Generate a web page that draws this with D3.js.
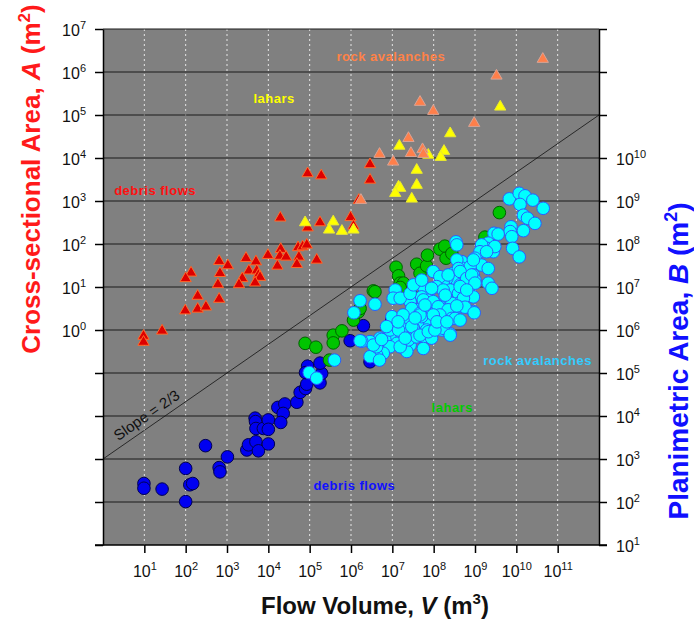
<!DOCTYPE html>
<html>
<head>
<meta charset="utf-8">
<script src="https://cdn.jsdelivr.net/npm/d3@7"></script>
<style>
  body { margin: 0; background: #fff; }
  svg { display: block; font-family: Arial, 'Liberation Sans', Helvetica, sans-serif; }
</style>
</head>
<body>
<div id="chart"></div>
<script>
// all values are log10 exponents
// triangles: [log V, log A]   circles: [log V, log B]
const debrisA = [
  [4.95, 3.64], [5.28, 3.59], [4.29, 2.61], [5.25, 2.5], [4.95, 2.38], [4.3, 1.88],
  [4.28, 1.72], [4.72, 1.92], [4.83, 1.94], [4.93, 1.98], [4.74, 1.7], [4.69, 1.53],
  [5.17, 1.63], [3.99, 1.74], [4.22, 1.49], [4.43, 1.7], [3.46, 1.67], [3.7, 1.59],
  [3.53, 1.38], [3.72, 1.38], [3.76, 1.28], [3.8, 1.23], [3.37, 1.2], [3.29, 1.06],
  [3.68, 1.1], [2.81, 1.6], [3.02, 1.5], [2.83, 1.32], [2.78, 1.06], [2.81, 0.72],
  [2.13, 1.33], [2.0, 1.2], [2.29, 0.79], [2.29, 0.49], [2.49, 0.54], [1.99, 0.45],
  [1.43, -0.02], [0.98, -0.14], [0.98, -0.28], [6.46, 3.85], [6.46, 3.49], [6.19, 3.02],
  [5.99, 2.62], [6.06, 2.42]
]
const laharA = [
  [4.89, 2.5], [5.57, 2.52], [5.47, 2.33], [5.78, 2.3], [6.06, 2.33], [7.17, 4.28],
  [7.59, 3.72], [7.15, 3.33], [7.19, 3.3], [7.07, 3.18], [7.59, 3.37], [7.47, 3.05],
  [8.4, 4.57], [8.25, 4.16], [8.17, 4.02], [7.87, 4.07], [9.61, 5.19]
]
const rockA = [
  [10.64, 6.3], [9.52, 5.91], [7.67, 5.3], [7.99, 5.09], [8.98, 4.81], [7.39, 4.46],
  [6.69, 4.09], [7.02, 3.91], [7.45, 4.11], [7.73, 4.2], [7.75, 4.09], [6.24, 3.02]
]
const debrisB = [
  [0.99, 2.43], [0.99, 2.32], [1.43, 2.3], [2.0, 2.78], [2.0, 2.01], [2.1, 2.4],
  [2.17, 2.43], [2.48, 3.31], [2.81, 2.8], [2.83, 2.7], [3.01, 3.05], [3.48, 3.21],
  [3.52, 3.33], [3.7, 3.4], [3.76, 3.19], [4.0, 3.35], [3.68, 3.95], [3.69, 3.87],
  [3.7, 3.71], [3.88, 3.71], [4.0, 3.91], [4.0, 3.69], [4.23, 4.2], [4.4, 4.28],
  [4.36, 4.06], [4.3, 3.85], [4.69, 4.32], [4.77, 4.55], [4.9, 4.64], [4.93, 4.74],
  [4.95, 5.16], [4.9, 5.01], [5.21, 4.88], [5.25, 4.77], [5.29, 4.99], [5.25, 5.23],
  [5.98, 5.75], [6.3, 6.1], [6.99, 6.25], [6.46, 5.26]
]
const laharB = [
  [4.89, 5.69], [5.15, 5.6], [5.57, 5.88], [5.57, 5.7], [5.78, 5.98], [5.48, 5.3],
  [6.06, 6.23], [6.18, 6.42], [6.22, 6.5], [6.54, 6.91], [6.58, 6.89], [7.09, 7.46],
  [7.15, 7.26], [7.19, 7.09], [7.27, 7.09], [7.19, 6.99], [7.43, 6.77], [7.47, 6.81],
  [7.59, 7.53], [7.67, 7.32], [7.83, 7.49], [7.85, 7.74], [8.15, 7.88], [8.27, 7.95],
  [8.3, 7.67], [8.44, 7.78], [9.24, 8.16], [9.59, 8.73]
]
const rockB = [
  [9.83, 9.05], [10.07, 9.18], [10.21, 9.12], [10.09, 8.92], [10.4, 9.02], [10.65, 8.83],
  [10.17, 8.67], [10.27, 8.6], [10.45, 8.48], [9.87, 8.4], [9.85, 8.29], [9.89, 8.17],
  [10.17, 8.31], [9.91, 7.9], [10.07, 7.7], [9.46, 8.25], [9.56, 8.23], [9.32, 8.02],
  [9.44, 7.82], [9.28, 7.9], [9.16, 7.98], [9.12, 7.82], [9.0, 7.67], [8.68, 7.59],
  [8.72, 7.43], [9.16, 7.51], [9.32, 7.43], [8.88, 7.47], [8.96, 7.28], [9.0, 7.16],
  [8.48, 7.32], [8.56, 7.16], [8.32, 7.2], [8.23, 7.09], [8.64, 7.05], [8.76, 7.09],
  [8.4, 6.93], [8.6, 6.85], [8.84, 6.93], [8.96, 6.77], [9.32, 7.09], [9.41, 6.97],
  [8.48, 6.54], [8.6, 6.62], [8.72, 6.74], [8.28, 6.74], [8.2, 6.58], [8.23, 6.47],
  [8.96, 6.43], [8.44, 6.31], [8.2, 6.0], [8.4, 5.91], [8.54, 8.05], [8.56, 7.98],
  [8.56, 7.63], [8.6, 7.43], [7.99, 7.36], [8.15, 7.24], [8.07, 7.01], [7.91, 6.93],
  [7.75, 7.01], [7.71, 6.77], [7.91, 6.7], [8.15, 6.54], [7.99, 6.43], [8.32, 6.47],
  [7.83, 6.31], [7.59, 6.47], [7.43, 6.66], [7.47, 6.5], [7.67, 6.19], [7.91, 6.16],
  [7.99, 6.0], [7.51, 6.04], [7.35, 6.16], [7.23, 6.04], [7.11, 5.92], [6.94, 5.84],
  [6.82, 5.77], [6.7, 5.81], [7.11, 5.69], [7.23, 5.61], [7.43, 5.65], [7.51, 5.84],
  [7.75, 5.84], [6.94, 5.61], [6.78, 5.46], [6.62, 5.42], [6.46, 5.38], [6.62, 5.61],
  [6.46, 5.73], [6.26, 5.74], [6.54, 5.65], [7.75, 5.57], [7.35, 5.5], [7.07, 6.93],
  [7.02, 6.74], [7.19, 6.74], [6.99, 6.31], [6.58, 6.6], [6.22, 6.68], [6.07, 6.4],
  [7.43, 6.85], [7.51, 7.05], [7.71, 7.16], [7.83, 6.0], [7.67, 6.39], [8.07, 6.47],
  [6.94, 6.0], [7.15, 6.0], [7.47, 6.08], [7.39, 5.77], [7.59, 5.84], [7.95, 5.81],
  [9.48, 7.94], [9.28, 7.82], [8.96, 7.63], [8.35, 7.28], [8.64, 7.36], [8.8, 7.2],
  [8.92, 7.28], [9.0, 7.09], [8.64, 7.01], [8.8, 6.93], [8.44, 6.62], [8.23, 6.93],
  [7.95, 6.97], [7.75, 6.7], [7.99, 6.66], [8.11, 6.54], [8.35, 6.47], [8.15, 6.35],
  [7.71, 6.31], [8.23, 6.04], [8.44, 6.27], [8.6, 6.54], [8.76, 6.53], [8.28, 6.81],
  [6.69, 5.3], [6.74, 5.78], [6.86, 6.08], [7.19, 5.61], [7.67, 5.88], [7.87, 5.96],
  [8.03, 6.0], [8.4, 5.88], [8.52, 6.27], [8.98, 6.4], [8.56, 6.56], [7.99, 6.35],
  [7.67, 6.35], [4.99, 5.01], [5.17, 4.88], [5.6, 5.3], [6.22, 5.75],
  [7.26, 6.35], [7.55, 6.28], [7.14, 6.19], [7.79, 6.58], [8.08, 6.19], [8.32, 6.19],
  [8.64, 6.23], [7.31, 5.81]
]

const xTickExps = [1, 2, 3, 4, 5, 6, 7, 8, 9, 10, 11]
const leftTickExps = [-5, -4, -3, -2, -1, 0, 1, 2, 3, 4, 5, 6, 7]
const leftLabelExps = [0, 1, 2, 3, 4, 5, 6, 7]
const rightTickExps = [1, 2, 3, 4, 5, 6, 7, 8, 9, 10, 11, 12, 13]
const rightLabelExps = [1, 2, 3, 4, 5, 6, 7, 8, 9, 10]

// slope = 2/3 reference line, [log V, log A]
const slopeLine = [[0, -3], [12, 5]]

// group labels, anchored in data space
const topLabels = [
  { text: 'rock avalanches', v: 5.65, a: 6.26, color: '#ff8247' },
  { text: 'lahars', v: 3.64, a: 5.29, color: '#ffff00' },
  { text: 'debris flows', v: 0.27, a: 3.14, color: '#ff1010' }
]
const bottomLabels = [
  { text: 'rock avalanches', v: 9.2, b: 5.19, color: '#33ccff' },
  { text: 'lahars', v: 7.95, b: 4.1, color: '#00cc00' },
  { text: 'debris flows', v: 5.09, b: 2.28, color: '#1010ff' }
]

const margin = { top: 29, left: 103, right: 95, bottom: 74 }
const width = 694 - margin.left - margin.right
const height = 619 - margin.top - margin.bottom

const svg = d3
  .select('#chart')
  .append('svg')
  .attr('width', 694)
  .attr('height', 619)

const x = d3.scaleLog().domain([1, 1e12]).range([margin.left, margin.left + width])
const yA = d3.scaleLog().domain([1e-5, 1e7]).range([margin.top + height, margin.top])
const yB = d3.scaleLog().domain([10, 1e13]).range([margin.top + height, margin.top])
const p = e => Math.pow(10, e)

// panel
svg
  .append('rect')
  .attr('x', margin.left)
  .attr('y', margin.top)
  .attr('width', width)
  .attr('height', height)
  .attr('fill', '#808080')

// vertical dotted grid
svg
  .selectAll('.vgrid')
  .data(xTickExps)
  .enter()
  .append('line')
  .attr('class', 'vgrid')
  .attr('x1', d => x(p(d)))
  .attr('x2', d => x(p(d)))
  .attr('y1', margin.top)
  .attr('y2', margin.top + height)
  .attr('stroke', '#e6e6e6')
  .attr('stroke-width', 1)
  .attr('stroke-dasharray', '2,3')

// horizontal grid
svg
  .selectAll('.hgrid')
  .data(leftTickExps.slice(1))
  .enter()
  .append('line')
  .attr('class', 'hgrid')
  .attr('x1', margin.left)
  .attr('x2', margin.left + width)
  .attr('y1', d => yA(p(d)))
  .attr('y2', d => yA(p(d)))
  .attr('stroke', '#1a1a1a')
  .attr('stroke-width', 1.2)

// slope line
const line = d3
  .line()
  .x(d => x(p(d[0])))
  .y(d => yA(p(d[1])))
svg
  .append('path')
  .datum(slopeLine)
  .attr('d', line)
  .attr('fill', 'none')
  .attr('stroke', '#111')
  .attr('stroke-width', 0.8)

const angle =
  (Math.atan2(yA(p(slopeLine[1][1])) - yA(p(slopeLine[0][1])), x(p(slopeLine[1][0])) - x(p(slopeLine[0][0]))) *
    180) /
  Math.PI
const lx = x(p(1.21))
const ly = yA(p(-3 + (2 / 3) * 1.21))
svg
  .append('text')
  .attr('transform', `translate(${lx},${ly}) rotate(${angle})`)
  .attr('dy', -6)
  .attr('text-anchor', 'middle')
  .attr('font-size', 15)
  .attr('fill', '#111')
  .text('Slope = 2/3')

// circles (planimetric area)
function circles(data, cls, fill, stroke) {
  svg
    .selectAll('.' + cls)
    .data(data)
    .enter()
    .append('circle')
    .attr('class', cls)
    .attr('cx', d => x(p(d[0])))
    .attr('cy', d => yB(p(d[1])))
    .attr('r', 6.3)
    .attr('fill', fill)
    .attr('stroke', stroke)
    .attr('stroke-width', 1)
}
circles(debrisB, 'debrisB', '#0000f0', '#000050')
circles(laharB, 'laharB', '#00c400', '#006000')
circles(rockB, 'rockB', '#00ffff', '#2a5cff')

// triangles (cross-sectional area)
const tri = d3.symbol().type(d3.symbolTriangle).size(55)
function triangles(data, cls, fill, stroke) {
  svg
    .selectAll('.' + cls)
    .data(data)
    .enter()
    .append('path')
    .attr('class', cls)
    .attr('d', tri)
    .attr('transform', d => `translate(${x(p(d[0]))},${yA(p(d[1]))})`)
    .attr('fill', fill)
    .attr('stroke', stroke)
    .attr('stroke-width', 1)
}
triangles(debrisA, 'debrisA', '#dd0000', '#ff6a2a')
triangles(laharA, 'laharA', '#ffff00', '#e8e830')
triangles(rockA, 'rockA', '#ff7f4a', '#d8a496')

// group labels
svg
  .selectAll('.toplabel')
  .data(topLabels)
  .enter()
  .append('text')
  .attr('class', 'toplabel')
  .attr('x', d => x(p(d.v)))
  .attr('y', d => yA(p(d.a)))
  .attr('fill', d => d.color)
  .attr('font-size', 13)
  .attr('font-weight', 'bold')
  .attr('letter-spacing', 0.5)
  .text(d => d.text)

svg
  .selectAll('.botlabel')
  .data(bottomLabels)
  .enter()
  .append('text')
  .attr('class', 'botlabel')
  .attr('x', d => x(p(d.v)))
  .attr('y', d => yB(p(d.b)))
  .attr('fill', d => d.color)
  .attr('font-size', 13)
  .attr('font-weight', 'bold')
  .attr('letter-spacing', 0.5)
  .text(d => d.text)

// power-of-ten label
function powLabel(t, e) {
  t.text(null)
  t.append('tspan').text('10')
  t.append('tspan').attr('dy', -7).attr('font-size', 11).text(e)
}

// left axis
const leftAxis = svg
  .append('g')
  .attr('transform', `translate(${margin.left},0)`)
  .call(
    d3
      .axisLeft(yA)
      .tickValues(leftTickExps.map(p))
      .tickSize(8)
      .tickSizeOuter(0)
      .tickFormat('')
  )
leftAxis.selectAll('.tick text').each(function (d) {
  const e = Math.round(Math.log10(d))
  const t = d3.select(this)
  t.text(null)
  if (!leftLabelExps.includes(e)) return
  t.attr('x', -17).attr('dy', null).attr('y', 6).attr('text-anchor', 'end')
  powLabel(t, e)
})

// right axis
const rightAxis = svg
  .append('g')
  .attr('transform', `translate(${margin.left + width},0)`)
  .call(
    d3
      .axisRight(yB)
      .tickValues(rightTickExps.map(p))
      .tickSize(8)
      .tickSizeOuter(0)
      .tickFormat('')
  )
rightAxis.selectAll('.tick text').each(function (d) {
  const e = Math.round(Math.log10(d))
  const t = d3.select(this)
  t.text(null)
  if (!rightLabelExps.includes(e)) return
  t.attr('x', 17).attr('dy', null).attr('y', 6).attr('text-anchor', 'start')
  powLabel(t, e)
})

// bottom axis
const bottomAxis = svg
  .append('g')
  .attr('transform', `translate(0,${margin.top + height})`)
  .call(
    d3
      .axisBottom(x)
      .tickValues(xTickExps.map(p))
      .tickSize(8)
      .tickSizeOuter(0)
      .tickFormat('')
  )
bottomAxis.select('.domain').remove()
bottomAxis.selectAll('.tick text').each(function (d) {
  const e = Math.round(Math.log10(d))
  const t = d3.select(this)
  t.attr('y', 32).attr('dy', null).attr('text-anchor', 'middle')
  powLabel(t, e)
})
svg
  .append('line')
  .attr('x1', margin.left - 8)
  .attr('x2', margin.left + width + 8)
  .attr('y1', margin.top + height)
  .attr('y2', margin.top + height)
  .attr('stroke', '#000')
  .attr('stroke-width', 1.5)

svg.selectAll('.tick text').attr('font-size', 16).attr('fill', '#111')
svg.selectAll('.tick line').attr('stroke', '#000').attr('stroke-width', 1.5)
svg.selectAll('.domain').attr('stroke', '#000').attr('stroke-width', 1.5)

// titles
function title(t, parts, supSize, supDy) {
  parts.forEach(part => {
    const s = t.append('tspan').text(part.s)
    if (part.i) s.attr('font-style', 'italic')
    if (part.sup) s.attr('font-size', supSize).attr('dy', -supDy)
    if (part.down) s.attr('dy', supDy)
  })
}

const leftTitle = svg
  .append('text')
  .attr('transform', 'translate(40,179) rotate(-90)')
  .attr('text-anchor', 'middle')
  .attr('font-size', 26)
  .attr('font-weight', 'bold')
  .attr('fill', '#ff1a1a')
title(
  leftTitle,
  [{ s: 'Cross-sectional Area, ' }, { s: 'A', i: true }, { s: ' (m' }, { s: '2', sup: true }, { s: ')', down: true }],
  17,
  10
)

const rightTitle = svg
  .append('text')
  .attr('transform', 'translate(688,361) rotate(-90)')
  .attr('text-anchor', 'middle')
  .attr('font-size', 28)
  .attr('font-weight', 'bold')
  .attr('fill', '#1010ff')
title(
  rightTitle,
  [{ s: 'Planimetric Area, ' }, { s: 'B', i: true }, { s: ' (m' }, { s: '2', sup: true }, { s: ')', down: true }],
  18,
  11
)

const xTitle = svg
  .append('text')
  .attr('x', 375)
  .attr('y', 614)
  .attr('text-anchor', 'middle')
  .attr('font-size', 24)
  .attr('font-weight', 'bold')
  .attr('fill', '#111')
title(
  xTitle,
  [{ s: 'Flow Volume, ' }, { s: 'V', i: true }, { s: ' (m' }, { s: '3', sup: true }, { s: ')', down: true }],
  15,
  10
)
</script>
</body>
</html>
